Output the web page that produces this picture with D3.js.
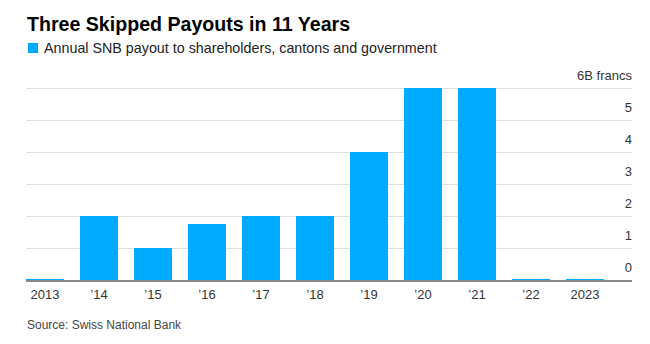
<!DOCTYPE html>
<html>
<head>
<meta charset="utf-8">
<script src="https://cdn.jsdelivr.net/npm/d3@7"></script>
<style>
  body { margin: 0; background: #fff; }
  text { font-family: "Liberation Sans", Arial, sans-serif; }
</style>
</head>
<body>
<div id="chart"></div>
<script>
// chart data
var years = ["2013", "2014", "2015", "2016", "2017", "2018", "2019", "2020", "2021", "2022", "2023"];
var yearLabels = ["2013", "\u201914", "\u201915", "\u201916", "\u201917", "\u201918", "\u201919", "\u201920", "\u201921", "\u201922", "2023"];
var payouts = [0, 2, 1, 1.75, 2, 2, 4, 6, 6, 0, 0];
var yTicks = [0, 1, 2, 3, 4, 5, 6];

var width = 650;
var height = 344;
var blue = "#00aaff";

// plot area (window.top is reserved, so use a margin object)
var plot = { left: 26, right: 632, top: 88, bottom: 280 };

var svg = d3.select("#chart")
    .append("svg")
    .attr("width", width)
    .attr("height", height);

// title + legend
svg.append("text")
    .attr("x", 27)
    .attr("y", 31)
    .attr("font-size", 19.6)
    .attr("font-weight", "bold")
    .attr("fill", "#000")
    .text("Three Skipped Payouts in 11 Years");

svg.append("rect")
    .attr("x", 28).attr("y", 43)
    .attr("width", 10).attr("height", 10)
    .attr("fill", blue);

svg.append("text")
    .attr("x", 44)
    .attr("y", 53)
    .attr("font-size", 14.3)
    .attr("fill", "#222")
    .text("Annual SNB payout to shareholders, cantons and government");

// scales: 38px bars on a 54px step
var x = d3.scaleBand()
    .domain(years)
    .range([plot.left, plot.left + 54 * years.length - 16])
    .paddingInner(16 / 54)
    .paddingOuter(0);

var y = d3.scaleLinear()
    .domain([0, 6])
    .range([plot.bottom, plot.top]);

// gridlines with labels sitting above them
var yAxis = d3.axisLeft(y)
    .tickValues(yTicks)
    .tickSize(plot.right - plot.left)
    .tickFormat(function(d) { return d === 6 ? "6B francs" : d; });

var yG = svg.append("g")
    .attr("transform", "translate(" + plot.right + ",0)")
    .call(yAxis);
yG.select(".domain").remove();
yG.selectAll(".tick line")
    .attr("stroke", "#dedede");
yG.selectAll(".tick text")
    .attr("x", 0)
    .attr("dy", -9)
    .attr("text-anchor", "end")
    .attr("font-size", 13)
    .attr("fill", "#333");

// bars (zero years show as a thin blue line on the baseline)
svg.append("g").selectAll("rect")
    .data(payouts)
    .join("rect")
    .attr("x", function(d, i) { return x(years[i]); })
    .attr("width", x.bandwidth())
    .attr("y", function(d) { return Math.min(y(d), plot.bottom - 1); })
    .attr("height", function(d) { return Math.max(plot.bottom - y(d), 1); })
    .attr("fill", blue);

// baseline
svg.append("line")
    .attr("x1", plot.left).attr("x2", plot.right)
    .attr("y1", plot.bottom + 1).attr("y2", plot.bottom + 1)
    .attr("stroke", "#666")
    .attr("stroke-width", 1.5);

// x axis labels
var xAxis = d3.axisBottom(x)
    .tickSize(0)
    .tickFormat(function(d, i) { return yearLabels[i]; });

var xG = svg.append("g")
    .attr("transform", "translate(0," + plot.bottom + ")")
    .call(xAxis);
xG.select(".domain").remove();
xG.selectAll(".tick text")
    .attr("y", 19)
    .attr("dy", 0)
    .attr("font-size", 13)
    .attr("fill", "#333");

// source
svg.append("text")
    .attr("x", 27)
    .attr("y", 329)
    .attr("font-size", 12)
    .attr("fill", "#444")
    .text("Source: Swiss National Bank");
</script>
</body>
</html>
